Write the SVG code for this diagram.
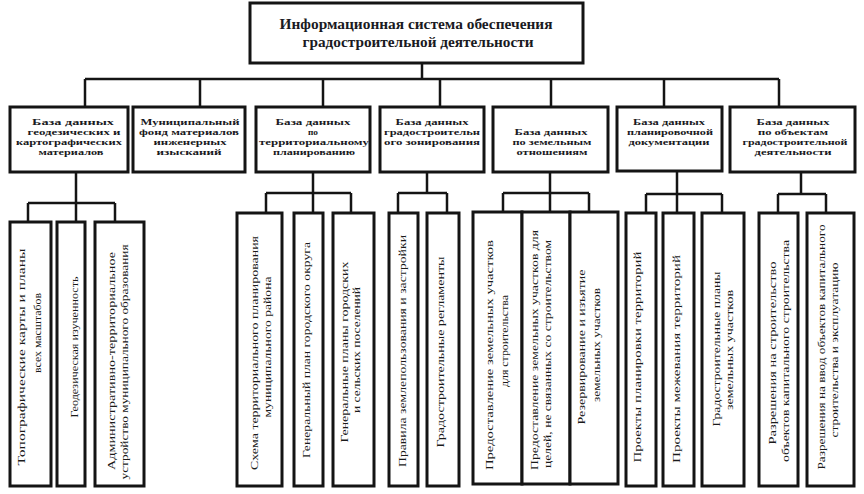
<svg xmlns="http://www.w3.org/2000/svg" width="864" height="494" viewBox="0 0 864 494">
<style>
.box{fill:#fff;stroke:#141414;stroke-width:3}
.ln{fill:none;stroke:#141414;stroke-width:2.5}
.t{font-family:"Liberation Serif","DejaVu Serif",serif;font-weight:bold;fill:#1a1a22;text-anchor:middle}
.h{font-size:9px}
.top{font-size:14px}
.v{font-family:"Liberation Serif","DejaVu Serif",serif;font-size:10px;fill:#1a1a1a;text-anchor:middle}
</style>
<rect width="864" height="494" fill="#fff"/>
<g id="connectors">
<path class="ln" d="M422,63V79M85,79H779M85,79V107M200,79V107M323,79V107M440,79V107M551,79V107M664,79V107M779,79V107"/>
<path class="ln" d="M76,172V203M28,203H115M28,203V222M76,203V222M115,203V222"/>
<path class="ln" d="M313,172V193M266,193H351M266,193V213M313,193V213M351,193V213"/>
<path class="ln" d="M427,172V193M398,193H447M398,193V213M447,193V213"/>
<path class="ln" d="M550,172V193M503,193H589M503,193V212M550,193V212M589,193V212"/>
<path class="ln" d="M677,172V194M646,194H722M646,194V213M677,194V213M722,194V213"/>
<path class="ln" d="M801,172V194M778,194H826M778,194V213M826,194V213"/>
</g>
<g id="root">
<rect class="box" x="250" y="3" width="333" height="60"/>
<text class="t top" x="416" y="29" textLength="273" lengthAdjust="spacingAndGlyphs">Информационная система обеспечения</text>
<text class="t top" x="418" y="47" textLength="231" lengthAdjust="spacingAndGlyphs">градостроительной деятельности</text>
</g>
<g id="h1">
<rect class="box" x="10" y="107" width="118" height="65"/>
<text class="t h" x="73" y="125.2" textLength="82" lengthAdjust="spacingAndGlyphs">База данных</text>
<text class="t h" x="74" y="135.2" textLength="93" lengthAdjust="spacingAndGlyphs">геодезических и</text>
<text class="t h" x="69" y="145.2" textLength="106" lengthAdjust="spacingAndGlyphs">картографических</text>
<text class="t h" x="71" y="155.2" textLength="65" lengthAdjust="spacingAndGlyphs">материалов</text>
</g>
<g id="h2">
<rect class="box" x="133" y="107" width="112" height="65"/>
<text class="t h" x="190" y="125.2" textLength="99" lengthAdjust="spacingAndGlyphs">Муниципальный</text>
<text class="t h" x="189" y="135.2" textLength="100" lengthAdjust="spacingAndGlyphs">фонд материалов</text>
<text class="t h" x="190" y="145.2" textLength="73" lengthAdjust="spacingAndGlyphs">инженерных</text>
<text class="t h" x="189" y="155.2" textLength="65" lengthAdjust="spacingAndGlyphs">изысканий</text>
</g>
<g id="h3">
<rect class="box" x="256" y="107" width="114" height="65"/>
<text class="t h" x="313" y="125.2" textLength="75" lengthAdjust="spacingAndGlyphs">База данных</text>
<text class="t h" x="313" y="135.2" textLength="10" lengthAdjust="spacingAndGlyphs">по</text>
<text class="t h" x="314" y="145.2" textLength="110" lengthAdjust="spacingAndGlyphs">территориальному</text>
<text class="t h" x="314" y="155.2" textLength="82" lengthAdjust="spacingAndGlyphs">планированию</text>
</g>
<g id="h4">
<rect class="box" x="380" y="107" width="104" height="65"/>
<text class="t h" x="432" y="125.3" textLength="73" lengthAdjust="spacingAndGlyphs">База данных</text>
<text class="t h" x="432" y="135.3" textLength="96" lengthAdjust="spacingAndGlyphs">градостроительн</text>
<text class="t h" x="432" y="145.3" textLength="96" lengthAdjust="spacingAndGlyphs">ого зонирования</text>
</g>
<g id="h5">
<rect class="box" x="493" y="107" width="115" height="65"/>
<text class="t h" x="551" y="134.7" textLength="73" lengthAdjust="spacingAndGlyphs">База данных</text>
<text class="t h" x="552" y="144.7" textLength="79" lengthAdjust="spacingAndGlyphs">по земельным</text>
<text class="t h" x="552" y="154.7" textLength="71" lengthAdjust="spacingAndGlyphs">отношениям</text>
</g>
<g id="h6">
<rect class="box" x="617" y="107" width="105" height="64"/>
<text class="t h" x="669" y="125" textLength="72" lengthAdjust="spacingAndGlyphs">База данных</text>
<text class="t h" x="670" y="135" textLength="86" lengthAdjust="spacingAndGlyphs">планировочной</text>
<text class="t h" x="669" y="145" textLength="81" lengthAdjust="spacingAndGlyphs">документации</text>
</g>
<g id="h7">
<rect class="box" x="730" y="107" width="125" height="65"/>
<text class="t h" x="793" y="125.2" textLength="73" lengthAdjust="spacingAndGlyphs">База данных</text>
<text class="t h" x="793" y="135.2" textLength="70" lengthAdjust="spacingAndGlyphs">по объектам</text>
<text class="t h" x="795" y="145.2" textLength="105" lengthAdjust="spacingAndGlyphs">градостроительной</text>
<text class="t h" x="793" y="155.2" textLength="77" lengthAdjust="spacingAndGlyphs">деятельности</text>
</g>
<g id="n1a">
<rect class="box" x="10" y="222" width="41" height="264"/>
<text class="v" transform="translate(25,357) rotate(-90)" textLength="217" lengthAdjust="spacingAndGlyphs">Топографические карты и планы</text>
<text class="v" transform="translate(41,333) rotate(-90)" textLength="80" lengthAdjust="spacingAndGlyphs">всех масштабов</text>
</g>
<g id="n1b">
<rect class="box" x="57" y="222" width="28" height="264"/>
<text class="v" transform="translate(78,347) rotate(-90)" textLength="141" lengthAdjust="spacingAndGlyphs">Геодезическая изученность</text>
</g>
<g id="n1c">
<rect class="box" x="95" y="222" width="49" height="264"/>
<text class="v" transform="translate(115,361) rotate(-90)" textLength="218" lengthAdjust="spacingAndGlyphs">Административно-территориальное</text>
<text class="v" transform="translate(128,362) rotate(-90)" textLength="235" lengthAdjust="spacingAndGlyphs">устройство муниципального образования</text>
</g>
<g id="n3a">
<rect class="box" x="237" y="213" width="45" height="273"/>
<text class="v" transform="translate(258,353) rotate(-90)" textLength="234" lengthAdjust="spacingAndGlyphs">Схема территориального планирования</text>
<text class="v" transform="translate(271,347) rotate(-90)" textLength="141" lengthAdjust="spacingAndGlyphs">муниципального района</text>
</g>
<g id="n3b">
<rect class="box" x="294" y="213" width="29" height="273"/>
<text class="v" transform="translate(310,350) rotate(-90)" textLength="216" lengthAdjust="spacingAndGlyphs">Генеральный план городского округа</text>
</g>
<g id="n3c">
<rect class="box" x="333" y="213" width="41" height="273"/>
<text class="v" transform="translate(348,352) rotate(-90)" textLength="181" lengthAdjust="spacingAndGlyphs">Генеральные планы городских</text>
<text class="v" transform="translate(360,350) rotate(-90)" textLength="126" lengthAdjust="spacingAndGlyphs">и сельских поселений</text>
</g>
<g id="n4a">
<rect class="box" x="389" y="213" width="29" height="273"/>
<text class="v" transform="translate(406,351) rotate(-90)" textLength="232" lengthAdjust="spacingAndGlyphs">Правила землепользования и застройки</text>
</g>
<g id="n4b">
<rect class="box" x="427" y="213" width="32" height="273"/>
<text class="v" transform="translate(444,352) rotate(-90)" textLength="191" lengthAdjust="spacingAndGlyphs">Градостроительные регламенты</text>
</g>
<g id="n5a">
<rect class="box" x="473" y="212" width="49" height="272"/>
<text class="v" transform="translate(493,355) rotate(-90)" textLength="230" lengthAdjust="spacingAndGlyphs">Предоставление земельных участков</text>
<text class="v" transform="translate(508,341) rotate(-90)" textLength="92" lengthAdjust="spacingAndGlyphs">для строительства</text>
</g>
<g id="n5b">
<rect class="box" x="522" y="212" width="48" height="272"/>
<text class="v" transform="translate(538,350) rotate(-90)" textLength="240" lengthAdjust="spacingAndGlyphs">Предоставление земельных участков для</text>
<text class="v" transform="translate(551,354) rotate(-90)" textLength="228" lengthAdjust="spacingAndGlyphs">целей, не связанных со строительством</text>
</g>
<g id="n5c">
<rect class="box" x="570" y="212" width="48" height="272"/>
<text class="v" transform="translate(585,347) rotate(-90)" textLength="155" lengthAdjust="spacingAndGlyphs">Резервирование и изъятие</text>
<text class="v" transform="translate(600,345) rotate(-90)" textLength="114" lengthAdjust="spacingAndGlyphs">земельных участков</text>
</g>
<g id="n6a">
<rect class="box" x="626" y="213" width="30" height="273"/>
<text class="v" transform="translate(641,357) rotate(-90)" textLength="211" lengthAdjust="spacingAndGlyphs">Проекты планировки территорий</text>
</g>
<g id="n6b">
<rect class="box" x="663" y="213" width="31" height="273"/>
<text class="v" transform="translate(680,359) rotate(-90)" textLength="208" lengthAdjust="spacingAndGlyphs">Проекты межевания территорий</text>
</g>
<g id="n6c">
<rect class="box" x="702" y="213" width="42" height="273"/>
<text class="v" transform="translate(720,349) rotate(-90)" textLength="155" lengthAdjust="spacingAndGlyphs">Градостроительные планы</text>
<text class="v" transform="translate(733,350) rotate(-90)" textLength="120" lengthAdjust="spacingAndGlyphs">земельных участков</text>
</g>
<g id="n7a">
<rect class="box" x="759" y="213" width="39" height="273"/>
<text class="v" transform="translate(776,353) rotate(-90)" textLength="183" lengthAdjust="spacingAndGlyphs">Разрешения на строительство</text>
<text class="v" transform="translate(789,351) rotate(-90)" textLength="222" lengthAdjust="spacingAndGlyphs">объектов капитального строительства</text>
</g>
<g id="n7b">
<rect class="box" x="807" y="213" width="47" height="273"/>
<text class="v" transform="translate(825,347) rotate(-90)" textLength="245" lengthAdjust="spacingAndGlyphs">Разрешения на ввод объектов капитального</text>
<text class="v" transform="translate(838,350) rotate(-90)" textLength="175" lengthAdjust="spacingAndGlyphs">строительства и эксплуатацию</text>
</g>
</svg>
